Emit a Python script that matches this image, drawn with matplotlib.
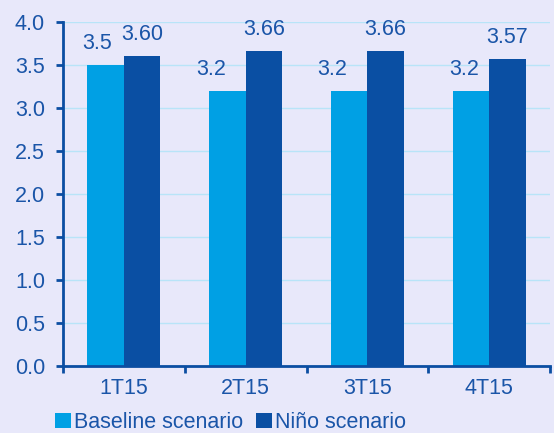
import matplotlib.pyplot as plt
import numpy as np

categories = ['1T15', '2T15', '3T15', '4T15']
baseline = [3.5, 3.2, 3.2, 3.2]
nino = [3.60, 3.66, 3.66, 3.57]
baseline_labels = ['3.5', '3.2', '3.2', '3.2']
nino_labels = ['3.60', '3.66', '3.66', '3.57']

bg = '#E8E8FA'
light = '#00A0E4'
dark = '#0A4FA3'
axis_col = '#0B4EA2'
text_col = '#1A55A8'
fs = 15.5

plt.rcParams['font.family'] = ['Liberation Sans', 'DejaVu Sans']

fig = plt.figure(figsize=(5.54, 4.33), dpi=100, facecolor=bg)
ax = fig.add_axes([63/554, 1-366/433, (550-63)/554, (366-22)/433], facecolor=bg)

x = np.arange(len(categories))
w = 0.3
b1 = ax.bar(x - w/2, baseline, w, color=light, label='Baseline scenario', zorder=3)
b2 = ax.bar(x + w/2, nino, w, color=dark, label='Niño scenario', zorder=3)

# labels of the light bars sit a bit to the left in the original
shift = [-6, -12, -12, -5]
for xi, v, s, dx in zip(x, baseline, baseline_labels, shift):
    ax.annotate(s, (xi - w/2, v), xytext=(dx, 8), textcoords='offset points',
                ha='center', va='bottom', fontsize=fs, color=text_col)
for xi, v, s in zip(x, nino, nino_labels):
    ax.annotate(s, (xi + w/2, v), xytext=(0, 8), textcoords='offset points',
                ha='center', va='bottom', fontsize=fs, color=text_col)

ax.set_xlim(-0.5, len(categories) - 0.5)
ax.set_ylim(0, 4.0)
ax.set_yticks(np.arange(0, 4.01, 0.5))
ax.set_yticklabels(['%.1f' % t for t in np.arange(0, 4.01, 0.5)])
ax.set_xticks(x)
ax.set_xticklabels(categories)
ax.set_xticks(np.arange(-0.5, len(categories), 1), minor=True)
ax.tick_params(axis='x', which='major', length=0, pad=9, labelsize=fs, labelcolor=text_col)
ax.tick_params(axis='x', which='minor', length=5, width=2, color=axis_col, direction='out')
ax.tick_params(axis='y', length=5, width=2, color=axis_col, labelsize=fs, labelcolor=text_col, pad=8)

ax.grid(axis='y', color='#B8E4F8', linewidth=1, zorder=0)
for sp in ['top', 'right']:
    ax.spines[sp].set_visible(False)
for sp in ['left', 'bottom']:
    ax.spines[sp].set_color(axis_col)
    ax.spines[sp].set_linewidth(2)
    ax.spines[sp].set_zorder(4)

fig.legend(handles=[b1, b2], loc='lower left', bbox_to_anchor=(46/554, -0.02), ncol=2,
           frameon=False, fontsize=fs, handlelength=0.75, handleheight=0.75,
           handletextpad=0.15, columnspacing=0.6, labelcolor=text_col, borderaxespad=0)

fig.savefig('out.png', dpi=100, facecolor=bg)
